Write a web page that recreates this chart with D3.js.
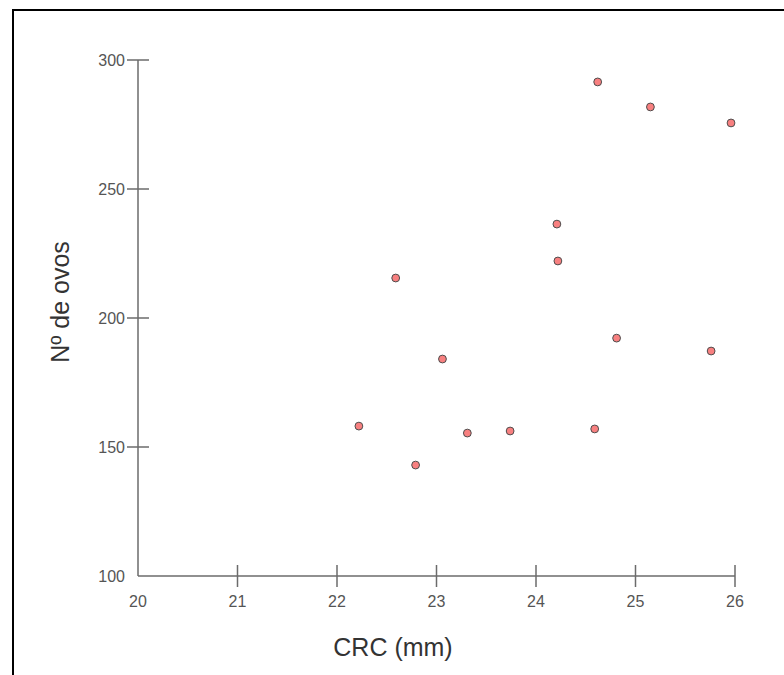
<!DOCTYPE html>
<html>
<head>
<meta charset="utf-8">
<script src="https://cdn.jsdelivr.net/npm/d3@7"></script>
<style>
    body { margin: 0; background: #fff; font-family: 'Liberation Sans', Arial, sans-serif; }
    #chart { position: absolute; left: 0; top: 0; }
</style>
</head>
<body>
<div id="chart"></div>
<script>
// CRC (mm) vs Nº de ovos
const crc = [24.62, 25.15, 25.96, 24.21, 24.22, 22.59, 24.81, 25.76, 23.06, 22.22, 24.59, 23.74, 23.31, 22.79]
const ovos = [291.5, 281.8, 275.6, 236.4, 222.1, 215.5, 192.2, 187.2, 184.1, 158.1, 157.0, 156.2, 155.4, 143.0]
const xTicks = [20, 21, 22, 23, 24, 25, 26]
const yTicks = [100, 150, 200, 250, 300]

const width = 784,
    height = 675
const margin = { top: 60, right: 49, bottom: 99, left: 138 }

let svg = d3.select('#chart').append('svg').attr('width', width).attr('height', height)

// page frame
svg.append('rect')
    .attr('x', 13)
    .attr('y', 10)
    .attr('width', width + 20)
    .attr('height', height + 20)
    .attr('fill', 'none')
    .attr('stroke', '#000')
    .attr('stroke-width', 2)

let x = d3.scaleLinear().domain([20, 26]).range([margin.left, width - margin.right])
let y = d3.scaleLinear().domain([100, 300]).range([height - margin.bottom, margin.top])

const axisColor = '#6b6b6b'
const textColor = '#555'

// x axis
let gx = svg.append('g').attr('transform', 'translate(0,' + (height - margin.bottom) + ')')
gx.append('line')
    .attr('x1', x(20))
    .attr('x2', x(26))
    .attr('stroke', axisColor)
    .attr('stroke-width', 1.5)
gx.selectAll('.tick')
    .data(xTicks)
    .enter()
    .append('g')
    .attr('transform', d => 'translate(' + x(d) + ',0)')
    .each(function (d, i) {
        let g = d3.select(this)
        if (i > 0) {
            g.append('line').attr('y1', -11).attr('y2', 11).attr('stroke', axisColor).attr('stroke-width', 1.5)
        }
        g.append('text')
            .attr('y', 31)
            .attr('text-anchor', 'middle')
            .attr('font-size', '16px')
            .attr('fill', textColor)
            .text(d)
    })

// y axis
let gy = svg.append('g').attr('transform', 'translate(' + margin.left + ',0)')
gy.append('line')
    .attr('y1', y(100))
    .attr('y2', y(300))
    .attr('stroke', axisColor)
    .attr('stroke-width', 1.5)
gy.selectAll('.tick')
    .data(yTicks)
    .enter()
    .append('g')
    .attr('transform', d => 'translate(0,' + y(d) + ')')
    .each(function (d, i) {
        let g = d3.select(this)
        if (i > 0) {
            g.append('line').attr('x1', -11).attr('x2', 11).attr('stroke', axisColor).attr('stroke-width', 1.5)
        }
        g.append('text')
            .attr('x', -13)
            .attr('dy', '0.35em')
            .attr('text-anchor', 'end')
            .attr('font-size', '16px')
            .attr('fill', textColor)
            .text(d)
    })

// axis titles
svg.append('text')
    .attr('x', 393)
    .attr('y', 656)
    .attr('text-anchor', 'middle')
    .attr('font-size', '25px')
    .attr('fill', '#333')
    .text('CRC (mm)')
svg.append('text')
    .attr('transform', 'translate(69,' + 302 + ')rotate(-90)')
    .attr('text-anchor', 'middle')
    .attr('font-size', '25px')
    .attr('fill', '#333')
    .text('Nº de ovos')

// points
svg.selectAll('circle')
    .data(crc.map((c, i) => ({ c: c, o: ovos[i] })))
    .enter()
    .append('circle')
    .attr('cx', d => x(d.c))
    .attr('cy', d => y(d.o))
    .attr('r', 3.9)
    .attr('fill', '#f88080')
    .attr('stroke', '#4d4d4d')
    .attr('stroke-width', 1)
</script>
</body>
</html>
